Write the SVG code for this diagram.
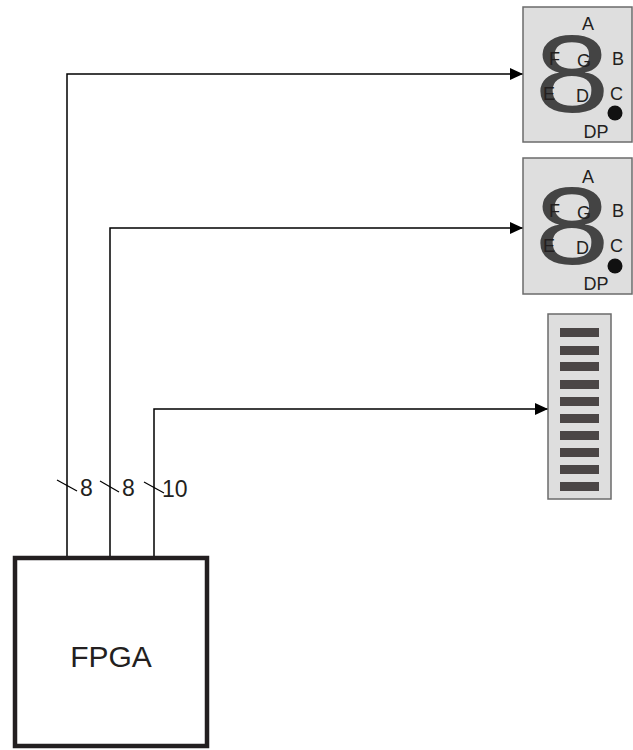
<svg xmlns="http://www.w3.org/2000/svg" width="633" height="750" viewBox="0 0 633 750">
<style>
text{font-family:"Liberation Sans",Arial,sans-serif;fill:#231f20}
.lbl{font-size:18px}
.bus{font-size:23px}
.disp{fill:#dedede;stroke:#6b6b6b;stroke-width:1.5}
.big{font-size:100px;fill:#333;fill-opacity:0.9}
.wire{fill:none;stroke:#000;stroke-width:1.5}
.bar{fill:#4b4646}
</style>
<defs>
<marker id="ah" markerWidth="14" markerHeight="12" refX="13" refY="6" orient="auto" markerUnits="userSpaceOnUse">
<path d="M0,0 L13,6 L0,12 Z" fill="#000"/>
</marker>
</defs>
<g id="connectors">
<path class="wire" d="M67,556 V74 H523" marker-end="url(#ah)"/>
<path class="wire" d="M110,556 V228 H523" marker-end="url(#ah)"/>
<path class="wire" d="M154,556 V409 H548" marker-end="url(#ah)"/>
<g stroke="#000" stroke-width="1.2">
<line x1="57" y1="480" x2="77" y2="491"/>
<line x1="100" y1="481" x2="119" y2="492"/>
<line x1="144" y1="482" x2="164" y2="493"/>
</g>
<text class="bus" x="80" y="496">8</text>
<text class="bus" x="122" y="496">8</text>
<text class="bus" x="162" y="497">10</text>
</g>
<g id="display1">
<rect class="disp" x="523" y="7" width="109" height="135"/>
<text class="big" x="0" y="0" text-anchor="middle" transform="translate(572,112) scale(1.35,1.1)">8</text>
<text class="lbl" x="588" y="30" text-anchor="middle">A</text>
<text class="lbl" x="549" y="65">F</text>
<text class="lbl" x="577" y="67">G</text>
<text class="lbl" x="612" y="65">B</text>
<text class="lbl" x="543" y="100">E</text>
<text class="lbl" x="576" y="102">D</text>
<text class="lbl" x="610" y="100">C</text>
<circle cx="615" cy="113" r="7.5" fill="#111"/>
<text class="lbl" x="596" y="138" text-anchor="middle">DP</text>
</g>
<g id="display2">
<rect class="disp" x="523" y="158" width="109" height="136"/>
<text class="big" x="0" y="0" text-anchor="middle" transform="translate(572,264) scale(1.35,1.1)">8</text>
<text class="lbl" x="588" y="183" text-anchor="middle">A</text>
<text class="lbl" x="549" y="217">F</text>
<text class="lbl" x="577" y="219">G</text>
<text class="lbl" x="612" y="217">B</text>
<text class="lbl" x="543" y="252">E</text>
<text class="lbl" x="576" y="254">D</text>
<text class="lbl" x="610" y="252">C</text>
<circle cx="615" cy="266" r="7.5" fill="#111"/>
<text class="lbl" x="596" y="290" text-anchor="middle">DP</text>
</g>
<g id="bargraph">
<rect class="disp" x="548" y="314" width="63" height="185"/>
<rect class="bar" x="560" y="328" width="39" height="9"/>
<rect class="bar" x="560" y="346" width="39" height="9"/>
<rect class="bar" x="560" y="362" width="39" height="9"/>
<rect class="bar" x="560" y="380" width="39" height="9"/>
<rect class="bar" x="560" y="397" width="39" height="9"/>
<rect class="bar" x="560" y="414" width="39" height="9"/>
<rect class="bar" x="560" y="431" width="39" height="9"/>
<rect class="bar" x="560" y="448" width="39" height="9"/>
<rect class="bar" x="560" y="465" width="39" height="9"/>
<rect class="bar" x="560" y="482" width="39" height="9"/>
</g>
<g id="fpga">
<rect x="15" y="558" width="192" height="188" fill="#fff" stroke="#231f20" stroke-width="4.5"/>
<text x="111" y="667" text-anchor="middle" font-size="30">FPGA</text>
</g>
</svg>
